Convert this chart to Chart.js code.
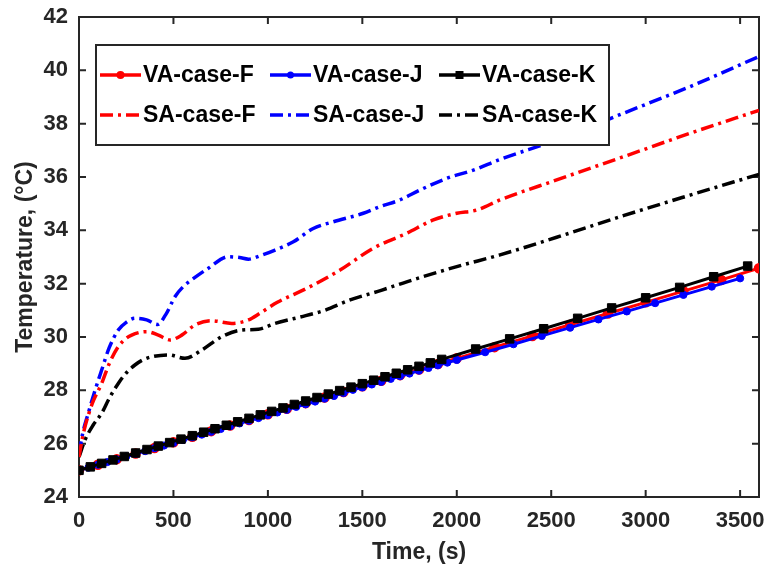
<!DOCTYPE html>
<html><head><meta charset="utf-8">
<script src="https://cdn.jsdelivr.net/npm/chart.js@4.4.1/dist/chart.umd.min.js"></script>
<style>html,body{margin:0;padding:0;background:#fff;}#wrap{width:768px;height:574px;}</style>
</head><body><div id="wrap"><canvas id="c" width="768" height="574"></canvas></div>
<script>
const xTickLabels = [0,500,1000,1500,2000,2500,3000,3500];
const yTickLabels = [24,26,28,30,32,34,36,38,40,42];
const seriesNames = ['VA-case-F','VA-case-J','VA-case-K','SA-case-F','SA-case-J','SA-case-K'];

const vaF_time = [0,100,200,300,400,500,600,700,800,900,1000,1100,1200,1300,1400,1500,1600,1700,1800,1900,2000,2200,2400,2600,2800,3000,3200,3400,3600];
const vaF_temp = [25.00,25.21,25.42,25.63,25.84,26.05,26.26,26.47,26.68,26.89,27.10,27.31,27.52,27.73,27.94,28.15,28.36,28.57,28.78,28.99,29.20,29.62,30.04,30.46,30.88,31.30,31.72,32.14,32.58];

const vaJ_time = [0,50,100,150,200,250,300,350,400,450,500,550,600,650,700,750,800,850,900,950,1000,1050,1100,1150,1200,1250,1300,1350,1400,1450,1500,1550,1600,1650,1700,1750,1800,1850,1900,1950,2000,2150,2300,2450,2600,2750,2900,3050,3200,3350,3500];
const vaJ_temp = [25.00,25.10,25.21,25.31,25.41,25.52,25.62,25.72,25.83,25.93,26.03,26.14,26.24,26.34,26.45,26.55,26.65,26.76,26.86,26.96,27.07,27.17,27.27,27.38,27.48,27.58,27.69,27.79,27.90,28.02,28.11,28.22,28.32,28.43,28.53,28.63,28.74,28.84,28.94,29.04,29.14,29.43,29.73,30.04,30.35,30.66,30.96,31.27,31.58,31.89,32.20];

const vaK_time = [0,60,120,180,240,300,360,420,480,540,600,660,720,780,840,900,960,1020,1080,1140,1200,1260,1320,1380,1440,1500,1560,1620,1680,1740,1800,1860,1920,2100,2280,2460,2640,2820,3000,3180,3360,3540];
const vaK_temp = [25.00,25.13,25.26,25.39,25.52,25.65,25.78,25.91,26.04,26.17,26.30,26.43,26.56,26.69,26.82,26.95,27.08,27.21,27.34,27.47,27.60,27.73,27.86,27.99,28.12,28.25,28.38,28.51,28.64,28.77,28.90,29.03,29.16,29.55,29.93,30.31,30.70,31.09,31.47,31.86,32.26,32.66];

const saF_time = [0,15,32,70,120,160,208,250,279,320,358,420,482,544,614,702,808,897,960,1050,1205,1382,1558,1735,1876,2000,2105,2229,2529,2882,3235,3600];
const saF_temp = [25.5,26.1,26.64,27.5,28.26,29.0,29.64,29.95,30.07,30.17,30.20,30.07,29.89,30.07,30.45,30.61,30.51,30.64,30.9,31.3,31.82,32.51,33.33,33.89,34.39,34.64,34.76,35.14,35.89,36.76,37.64,38.5];

const saJ_time = [0,20,49,85,120,160,208,250,296,358,416,460,508,552,596,685,791,850,897,960,1038,1135,1240,1346,1505,1594,1699,1805,1947,2088,2229,2529,2882,3235,3600];
const saJ_temp = [25.6,26.4,27.14,28.0,28.76,29.6,30.26,30.55,30.70,30.64,30.47,30.85,31.51,31.89,32.14,32.58,33.01,32.98,32.92,33.05,33.26,33.57,34.07,34.32,34.64,34.89,35.14,35.51,35.95,36.26,36.66,37.39,38.39,39.39,40.52];

const saK_time = [0,32,75,120,160,208,250,296,340,385,473,561,650,755,861,949,1038,1200,1300,1435,1600,1735,2000,2229,2529,2882,3235,3600];
const saK_temp = [25.5,26.14,26.7,27.14,27.7,28.26,28.65,28.95,29.15,29.26,29.33,29.20,29.51,30.01,30.26,30.29,30.51,30.8,31.0,31.39,31.75,32.07,32.64,33.08,33.74,34.55,35.32,36.1];

const pts = (t, v) => t.map((x, i) => ({x: x, y: v[i]}));
const AX = '#262626';
const FONT = "'Liberation Sans', Arial, sans-serif";
const DASHDOT = [13, 5, 3, 5];

const datasets = [
  {label: seriesNames[0], data: pts(vaF_time, vaF_temp), borderColor: '#ff0000', backgroundColor: '#ff0000', borderWidth: 3, pointStyle: 'circle', pointRadius: 4.5, pointBorderWidth: 1.5, pointBackgroundColor: '#ff0000', pointBorderColor: '#ff0000', tension: 0, order: 3},
  {label: seriesNames[1], data: pts(vaJ_time, vaJ_temp), borderColor: '#0000ff', backgroundColor: '#0000ff', borderWidth: 3, pointStyle: 'circle', pointRadius: 3.6, pointBorderWidth: 1, pointBackgroundColor: '#0000ff', pointBorderColor: '#0000ff', tension: 0, order: 2},
  {label: seriesNames[2], data: pts(vaK_time, vaK_temp), borderColor: '#000000', backgroundColor: '#000000', borderWidth: 3, pointStyle: 'rect', pointRadius: 6, pointBorderWidth: 1, pointBackgroundColor: '#000000', pointBorderColor: '#000000', tension: 0, order: 1},
  {label: seriesNames[3], data: pts(saF_time, saF_temp), borderColor: '#ff0000', borderWidth: 3.5, borderDash: DASHDOT, pointRadius: 0, cubicInterpolationMode: 'monotone', order: 0},
  {label: seriesNames[4], data: pts(saJ_time, saJ_temp), borderColor: '#0000ff', borderWidth: 3.5, borderDash: DASHDOT, pointRadius: 0, cubicInterpolationMode: 'monotone', order: 0},
  {label: seriesNames[5], data: pts(saK_time, saK_temp), borderColor: '#000000', borderWidth: 3.5, borderDash: DASHDOT, pointRadius: 0, cubicInterpolationMode: 'monotone', order: 0}
];

const framePlugin = {
  id: 'frame',
  beforeDatasetsDraw(chart) {
    const {ctx, chartArea: a, scales: {x, y}} = chart;
    ctx.save();
    ctx.strokeStyle = AX; ctx.lineWidth = 2;
    ctx.strokeRect(a.left, a.top, a.right - a.left, a.bottom - a.top);
    const tl = 7;
    ctx.beginPath();
    xTickLabels.forEach(v => {
      const px = x.getPixelForValue(v);
      ctx.moveTo(px, a.bottom); ctx.lineTo(px, a.bottom - tl);
      ctx.moveTo(px, a.top); ctx.lineTo(px, a.top + tl);
    });
    yTickLabels.forEach(v => {
      const py = y.getPixelForValue(v);
      ctx.moveTo(a.left, py); ctx.lineTo(a.left + tl, py);
      ctx.moveTo(a.right, py); ctx.lineTo(a.right - tl, py);
    });
    ctx.stroke();
    ctx.restore();
  }
};

const legendPlugin = {
  id: 'mlegend',
  afterDraw(chart) {
    const ctx = chart.ctx;
    const box = {l: 96, t: 45, r: 609, b: 145};
    ctx.save();
    ctx.fillStyle = '#ffffff';
    ctx.fillRect(box.l, box.t, box.r - box.l, box.b - box.t);
    ctx.strokeStyle = AX; ctx.lineWidth = 2;
    ctx.strokeRect(box.l, box.t, box.r - box.l, box.b - box.t);
    const colX = [100, 270, 439];
    const rowY = [75, 115];
    ctx.font = 'bold 23px ' + FONT;
    ctx.textBaseline = 'middle';
    ctx.textAlign = 'left';
    chart.data.datasets.forEach((ds, i) => {
      const cx = colX[i % 3], cy = rowY[Math.floor(i / 3)];
      ctx.strokeStyle = ds.borderColor; ctx.lineWidth = 3.5;
      ctx.setLineDash(ds.borderDash || []);
      ctx.beginPath(); ctx.moveTo(cx, cy); ctx.lineTo(cx + 41, cy); ctx.stroke();
      ctx.setLineDash([]);
      if (i < 3) {
        ctx.fillStyle = ds.pointBackgroundColor;
        if (ds.pointStyle === 'rect') {
          ctx.fillRect(cx + 20.5 - 4, cy - 4, 8, 8);
        } else {
          ctx.beginPath(); ctx.arc(cx + 20.5, cy, i === 0 ? 4 : 3.5, 0, Math.PI * 2); ctx.fill();
        }
      }
      ctx.fillStyle = '#000000';
      ctx.fillText(ds.label, cx + 43, cy + 1);
    });
    ctx.restore();
  }
};

new Chart(document.getElementById('c'), {
  type: 'line',
  data: {datasets},
  options: {
    responsive: false, animation: false, devicePixelRatio: 1,
    layout: {padding: {top: 17, right: 9, left: 0, bottom: 0}},
    plugins: {legend: {display: false}, tooltip: {enabled: false}},
    scales: {
      x: {
        type: 'linear', min: 0, max: 3600,
        afterBuildTicks: s => { s.ticks = xTickLabels.map(v => ({value: v})); },
        afterFit: s => { s.height = 77; s.paddingLeft = 0; s.paddingRight = 0; },
        grid: {display: false, drawTicks: false}, border: {display: false},
        ticks: {autoSkip: false, maxRotation: 0, padding: 11, color: AX, font: {family: FONT, size: 22, weight: 'bold'}, callback: v => String(v)},
        title: {display: true, text: 'Time, (s)', color: AX, font: {family: FONT, size: 23, weight: 'bold'}, padding: {top: 0, bottom: 8}}
      },
      y: {
        type: 'linear', min: 24, max: 42,
        afterBuildTicks: s => { s.ticks = yTickLabels.map(v => ({value: v})); },
        afterFit: s => { s.width = 79; s.paddingTop = 0; s.paddingBottom = 0; },
        grid: {display: false, drawTicks: false}, border: {display: false},
        ticks: {autoSkip: false, padding: 11, color: AX, font: {family: FONT, size: 22, weight: 'bold'}, callback: v => String(v)},
        title: {display: true, text: 'Temperature, (°C)', color: AX, font: {family: FONT, size: 23, weight: 'bold'}, padding: {top: 12, bottom: 0}}
      }
    }
  },
  plugins: [framePlugin, legendPlugin]
});
</script></body></html>
